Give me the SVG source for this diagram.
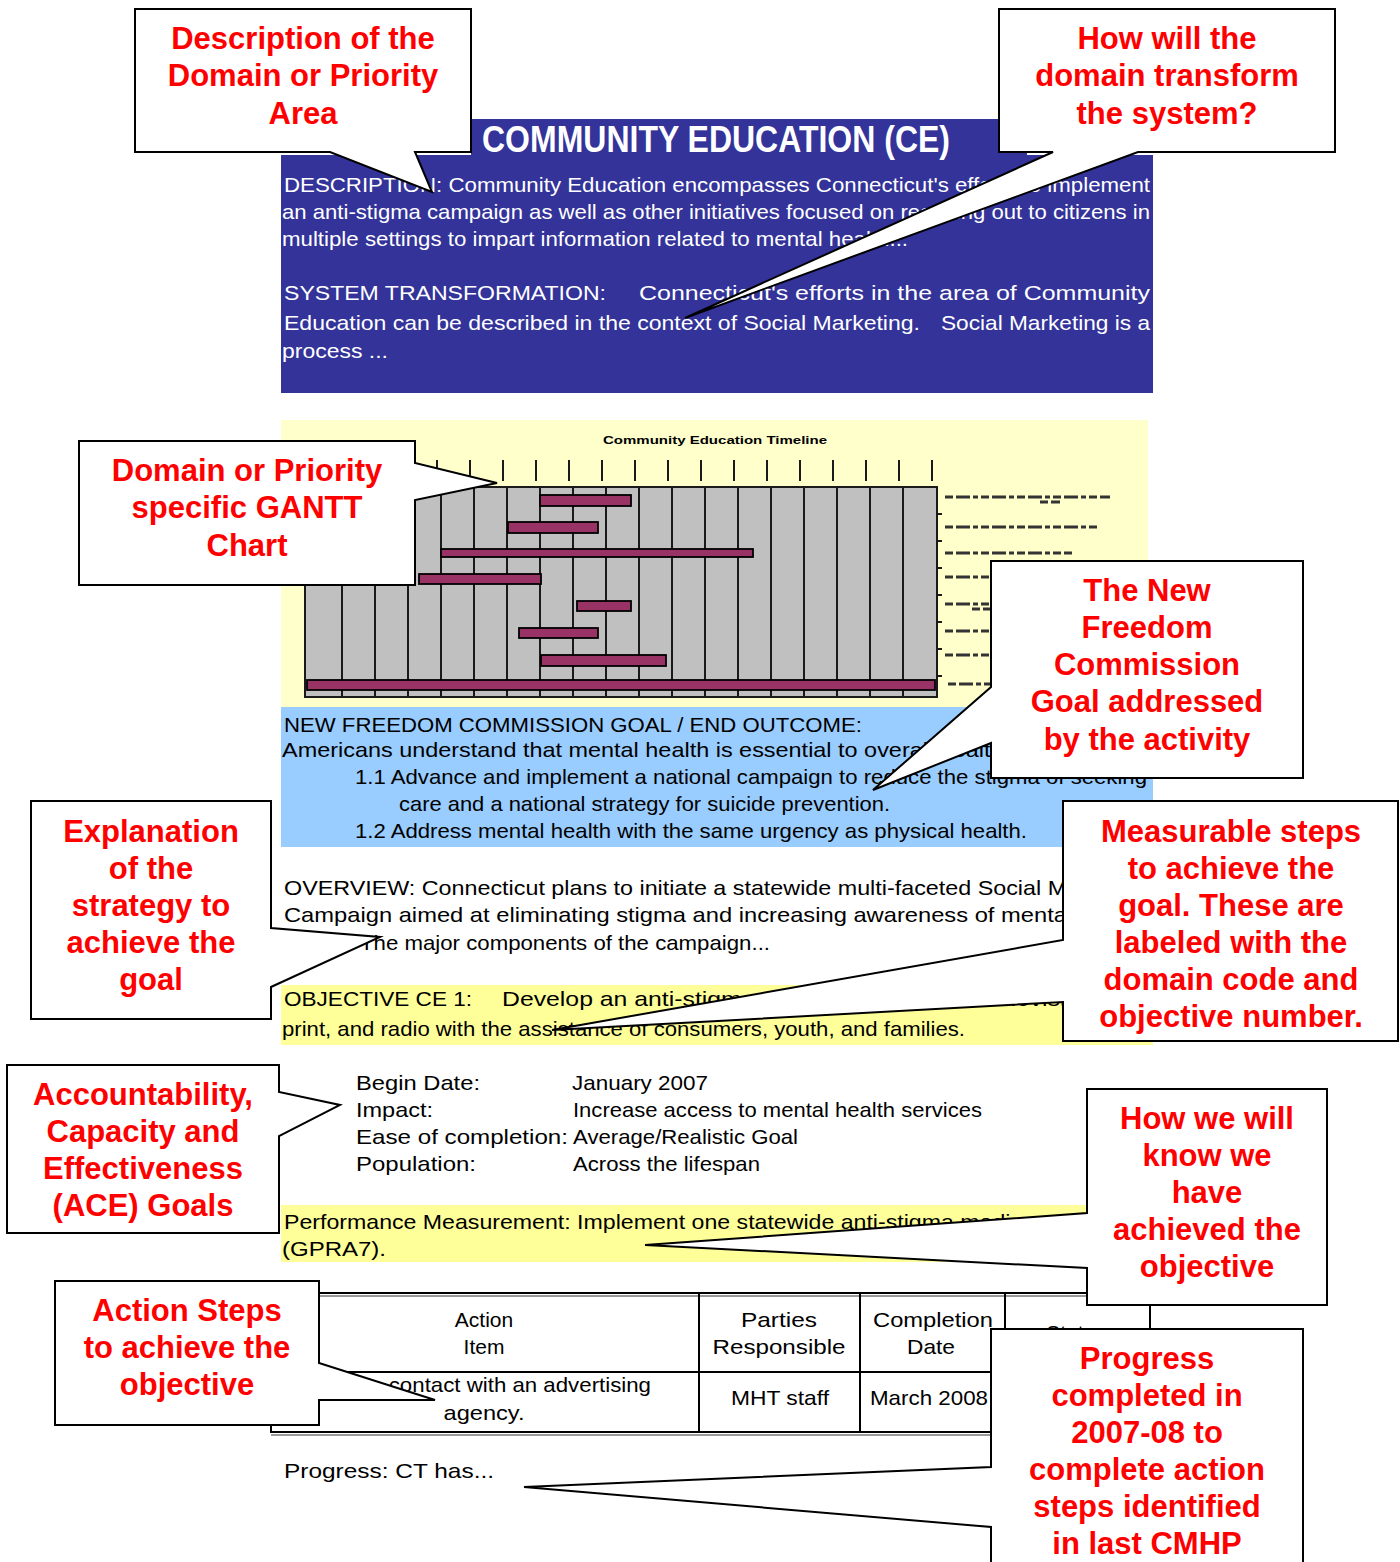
<svg xmlns="http://www.w3.org/2000/svg" width="1400" height="1562" viewBox="0 0 1400 1562">
<style>
.doc{font-family:"Liberation Sans Narrow","Liberation Sans",Arial,sans-serif;font-size:21px;fill:#000}
.wt{fill:#fff}
.cl{fill:#fff;stroke:#000;stroke-width:2;stroke-linejoin:miter}
.ct{font-family:"Liberation Sans",Arial,sans-serif;font-weight:bold;font-size:31px;fill:#ff0000;text-anchor:middle}
.grid{stroke:#1a1a1a;stroke-width:2}
.bar{fill:#993366;stroke:#000;stroke-width:1.8}
.leg{stroke:#333;stroke-width:3;stroke-dasharray:8 3 14 3 5 3}
.tb{stroke:#000;stroke-width:2;fill:none}
.mid{text-anchor:middle}
</style>
<rect width="1400" height="1562" fill="#fff"/>
<g id="document">
  <!-- top blue section -->
  <rect x="471" y="119" width="556" height="40" fill="#333399"/>
  <rect x="281" y="155" width="872" height="238" fill="#333399"/>
  <text class="doc wt" x="482" y="152" style="font-size:37px;font-weight:bold" textLength="468" lengthAdjust="spacingAndGlyphs">COMMUNITY EDUCATION (CE)</text>
  <text class="doc wt" x="284" y="192" textLength="866" lengthAdjust="spacingAndGlyphs">DESCRIPTION: Community Education encompasses Connecticut's efforts to implement</text>
  <text class="doc wt" x="282" y="219" textLength="868" lengthAdjust="spacingAndGlyphs">an anti-stigma campaign as well as other initiatives focused on reaching out to citizens in</text>
  <text class="doc wt" x="282" y="246" textLength="626" lengthAdjust="spacingAndGlyphs">multiple settings to impart information related to mental health...</text>
  <text class="doc wt" x="284" y="300" textLength="322" lengthAdjust="spacingAndGlyphs">SYSTEM TRANSFORMATION:</text>
  <text class="doc wt" x="639" y="300" textLength="511" lengthAdjust="spacingAndGlyphs">Connecticut's efforts in the area of Community</text>
  <text class="doc wt" x="284" y="330" textLength="636" lengthAdjust="spacingAndGlyphs">Education can be described in the context of Social Marketing.</text>
  <text class="doc wt" x="941" y="330" textLength="209" lengthAdjust="spacingAndGlyphs">Social Marketing is a</text>
  <text class="doc wt" x="282" y="358" textLength="106" lengthAdjust="spacingAndGlyphs">process ...</text>

  <!-- gantt section -->
  <rect x="281" y="420" width="867" height="287" fill="#ffffcc"/>
  <text x="715" y="444" font-family="Liberation Sans,Arial,sans-serif" font-weight="bold" font-size="10" text-anchor="middle" textLength="224" lengthAdjust="spacingAndGlyphs" fill="#000">Community Education Timeline</text>
  <g class="grid">
    <line x1="437" y1="460" x2="437" y2="481"/><line x1="470" y1="460" x2="470" y2="481"/><line x1="503" y1="460" x2="503" y2="481"/><line x1="536" y1="460" x2="536" y2="481"/><line x1="569" y1="460" x2="569" y2="481"/><line x1="602" y1="460" x2="602" y2="481"/><line x1="635" y1="460" x2="635" y2="481"/><line x1="668" y1="460" x2="668" y2="481"/><line x1="701" y1="460" x2="701" y2="481"/><line x1="734" y1="460" x2="734" y2="481"/><line x1="767" y1="460" x2="767" y2="481"/><line x1="800" y1="460" x2="800" y2="481"/><line x1="833" y1="460" x2="833" y2="481"/><line x1="866" y1="460" x2="866" y2="481"/><line x1="899" y1="460" x2="899" y2="481"/><line x1="932" y1="460" x2="932" y2="481"/>
  </g>
  <rect x="305" y="487" width="632" height="210" fill="#c0c0c0" stroke="#1a1a1a" stroke-width="2"/>
  <g class="grid">
    <line x1="342" y1="487" x2="342" y2="697"/><line x1="375" y1="487" x2="375" y2="697"/><line x1="408" y1="487" x2="408" y2="697"/><line x1="441" y1="487" x2="441" y2="697"/><line x1="474" y1="487" x2="474" y2="697"/><line x1="507" y1="487" x2="507" y2="697"/><line x1="540" y1="487" x2="540" y2="697"/><line x1="573" y1="487" x2="573" y2="697"/><line x1="606" y1="487" x2="606" y2="697"/><line x1="639" y1="487" x2="639" y2="697"/><line x1="672" y1="487" x2="672" y2="697"/><line x1="705" y1="487" x2="705" y2="697"/><line x1="738" y1="487" x2="738" y2="697"/><line x1="771" y1="487" x2="771" y2="697"/><line x1="804" y1="487" x2="804" y2="697"/><line x1="837" y1="487" x2="837" y2="697"/><line x1="870" y1="487" x2="870" y2="697"/><line x1="903" y1="487" x2="903" y2="697"/>
    <line x1="937" y1="514" x2="942" y2="514"/><line x1="937" y1="541" x2="942" y2="541"/><line x1="937" y1="568" x2="942" y2="568"/><line x1="937" y1="595" x2="942" y2="595"/><line x1="937" y1="622" x2="942" y2="622"/><line x1="937" y1="649" x2="942" y2="649"/><line x1="937" y1="676" x2="942" y2="676"/>
  </g>
  <rect class="bar" x="540" y="495" width="91" height="11"/>
  <rect class="bar" x="508" y="522" width="90" height="11"/>
  <rect class="bar" x="441" y="549" width="312" height="8"/>
  <rect class="bar" x="419" y="574" width="122" height="10"/>
  <rect class="bar" x="577" y="601" width="54" height="10"/>
  <rect class="bar" x="519" y="628" width="79" height="10"/>
  <rect class="bar" x="541" y="655" width="125" height="11"/>
  <rect class="bar" x="307" y="680" width="628" height="10"/>
  <g class="leg">
    <line x1="945" y1="497" x2="1110" y2="497"/><line x1="1040" y1="502" x2="1060" y2="502"/>
    <line x1="945" y1="527" x2="1100" y2="527"/>
    <line x1="945" y1="553" x2="1072" y2="553"/>
    <line x1="945" y1="577" x2="1000" y2="577"/>
    <line x1="945" y1="604" x2="1000" y2="604"/><line x1="972" y1="609" x2="1000" y2="609"/>
    <line x1="945" y1="631" x2="1000" y2="631"/>
    <line x1="945" y1="655" x2="1000" y2="655"/>
    <line x1="948" y1="684" x2="1000" y2="684"/>
  </g>

  <!-- NFC section -->
  <rect x="281" y="707" width="872" height="140" fill="#99ccff"/>
  <text class="doc" x="284" y="732" textLength="578" lengthAdjust="spacingAndGlyphs">NEW FREEDOM COMMISSION GOAL / END OUTCOME:</text>
  <text class="doc" x="282" y="757" textLength="728" lengthAdjust="spacingAndGlyphs">Americans understand that mental health is essential to overall health.</text>
  <text class="doc" x="355" y="784" textLength="792" lengthAdjust="spacingAndGlyphs">1.1 Advance and implement a national campaign to reduce the stigma of seeking</text>
  <text class="doc" x="399" y="811" textLength="491" lengthAdjust="spacingAndGlyphs">care and a national strategy for suicide prevention.</text>
  <text class="doc" x="355" y="838" textLength="672" lengthAdjust="spacingAndGlyphs">1.2 Address mental health with the same urgency as physical health.</text>

  <!-- overview -->
  <text class="doc" x="284" y="895" textLength="866" lengthAdjust="spacingAndGlyphs">OVERVIEW: Connecticut plans to initiate a statewide multi-faceted Social Marketing</text>
  <text class="doc" x="284" y="922" textLength="866" lengthAdjust="spacingAndGlyphs">Campaign aimed at eliminating stigma and increasing awareness of mental health.</text>
  <text class="doc" x="360" y="950" textLength="410" lengthAdjust="spacingAndGlyphs">The major components of the campaign...</text>

  <!-- objective -->
  <rect x="281" y="985" width="872" height="60" fill="#ffff99"/>
  <text class="doc" x="284" y="1006" textLength="188" lengthAdjust="spacingAndGlyphs">OBJECTIVE CE 1:</text>
  <text class="doc" x="502" y="1006" textLength="598" lengthAdjust="spacingAndGlyphs">Develop an anti-stigma media campaign via television,</text>
  <text class="doc" x="282" y="1036" textLength="683" lengthAdjust="spacingAndGlyphs">print, and radio with the assistance of consumers, youth, and families.</text>

  <!-- details -->
  <text class="doc" x="356" y="1090" textLength="124" lengthAdjust="spacingAndGlyphs">Begin Date:</text>
  <text class="doc" x="572" y="1090" textLength="136" lengthAdjust="spacingAndGlyphs">January 2007</text>
  <text class="doc" x="356" y="1117" textLength="77" lengthAdjust="spacingAndGlyphs">Impact:</text>
  <text class="doc" x="573" y="1117" textLength="409" lengthAdjust="spacingAndGlyphs">Increase access to mental health services</text>
  <text class="doc" x="356" y="1144" textLength="212" lengthAdjust="spacingAndGlyphs">Ease of completion:</text>
  <text class="doc" x="573" y="1144" textLength="225" lengthAdjust="spacingAndGlyphs">Average/Realistic Goal</text>
  <text class="doc" x="356" y="1171" textLength="120" lengthAdjust="spacingAndGlyphs">Population:</text>
  <text class="doc" x="573" y="1171" textLength="187" lengthAdjust="spacingAndGlyphs">Across the lifespan</text>

  <!-- performance -->
  <rect x="281" y="1205" width="869" height="57" fill="#ffff99"/>
  <text class="doc" x="284" y="1229" textLength="846" lengthAdjust="spacingAndGlyphs">Performance Measurement: Implement one statewide anti-stigma media campaign</text>
  <text class="doc" x="282" y="1256" textLength="104" lengthAdjust="spacingAndGlyphs">(GPRA7).</text>

  <!-- table -->
  <line x1="271" y1="1296" x2="1150" y2="1296" stroke="#999" stroke-width="2"/>
  <line x1="271" y1="1435" x2="1150" y2="1435" stroke="#999" stroke-width="2"/>
  <rect class="tb" x="271" y="1293" width="879" height="139"/>
  <line class="tb" x1="271" y1="1372" x2="1150" y2="1372"/>
  <line class="tb" x1="699" y1="1293" x2="699" y2="1432"/>
  <line class="tb" x1="860" y1="1293" x2="860" y2="1432"/>
  <line class="tb" x1="1005" y1="1293" x2="1005" y2="1432"/>
  <text class="doc mid" x="484" y="1327">Action</text>
  <text class="doc mid" x="484" y="1354">Item</text>
  <text class="doc mid" x="779" y="1327" textLength="76" lengthAdjust="spacingAndGlyphs">Parties</text>
  <text class="doc mid" x="779" y="1354" textLength="133" lengthAdjust="spacingAndGlyphs">Responsible</text>
  <text class="doc mid" x="933" y="1327" textLength="120" lengthAdjust="spacingAndGlyphs">Completion</text>
  <text class="doc mid" x="931" y="1354" textLength="48" lengthAdjust="spacingAndGlyphs">Date</text>
  <text class="doc mid" x="1076" y="1340">Status</text>
  <text class="doc mid" x="484" y="1392" textLength="334" lengthAdjust="spacingAndGlyphs">Initiate contact with an advertising</text>
  <text class="doc mid" x="484" y="1420" textLength="81" lengthAdjust="spacingAndGlyphs">agency.</text>
  <text class="doc mid" x="780" y="1405" textLength="98" lengthAdjust="spacingAndGlyphs">MHT staff</text>
  <text class="doc mid" x="929" y="1405" textLength="118" lengthAdjust="spacingAndGlyphs">March 2008</text>

  <text class="doc" x="284" y="1478" textLength="210" lengthAdjust="spacingAndGlyphs">Progress: CT has...</text>
</g>

<g id="connectors"></g>

<g id="callout-description">
  <path class="cl" d="M135,9 H471 V152 H415 L432,192 L330,152 H135 Z"/>
  <text class="ct" x="303" y="49">Description of the</text>
  <text class="ct" x="303" y="86">Domain or Priority</text>
  <text class="ct" x="303" y="124">Area</text>
</g>
<g id="callout-transform">
  <path class="cl" d="M999,9 H1335 V152 H1138 L685,318 L1053,152 H999 Z"/>
  <text class="ct" x="1167" y="49">How will the</text>
  <text class="ct" x="1167" y="86">domain transform</text>
  <text class="ct" x="1167" y="124">the system?</text>
</g>
<g id="callout-gantt">
  <path class="cl" d="M79,441 H415 V463 L497,483 L415,500 V585 H79 Z"/>
  <text class="ct" x="247" y="481">Domain or Priority</text>
  <text class="ct" x="247" y="518">specific GANTT</text>
  <text class="ct" x="247" y="556">Chart</text>
</g>
<g id="callout-nfc">
  <path class="cl" d="M991,561 H1303 V778 H991 V743 L873,790 L991,687 Z"/>
  <text class="ct" x="1147" y="601">The New</text>
  <text class="ct" x="1147" y="638">Freedom</text>
  <text class="ct" x="1147" y="675">Commission</text>
  <text class="ct" x="1147" y="712">Goal addressed</text>
  <text class="ct" x="1147" y="750">by the activity</text>
</g>
<g id="callout-explanation">
  <path class="cl" d="M31,801 H271 V928 L380,937 L271,987 V1019 H31 Z"/>
  <text class="ct" x="151" y="842">Explanation</text>
  <text class="ct" x="151" y="879">of the</text>
  <text class="ct" x="151" y="916">strategy to</text>
  <text class="ct" x="151" y="953">achieve the</text>
  <text class="ct" x="151" y="990">goal</text>
</g>
<g id="callout-measurable">
  <path class="cl" d="M1063,801 H1398 V1041 H1063 V1002 L552,1030 L1063,940 Z"/>
  <text class="ct" x="1231" y="842">Measurable steps</text>
  <text class="ct" x="1231" y="879">to achieve the</text>
  <text class="ct" x="1231" y="916">goal. These are</text>
  <text class="ct" x="1231" y="953">labeled with the</text>
  <text class="ct" x="1231" y="990">domain code and</text>
  <text class="ct" x="1231" y="1027">objective number.</text>
</g>
<g id="callout-ace">
  <path class="cl" d="M7,1065 H279 V1092 L340,1105 L279,1136 V1233 H7 Z"/>
  <text class="ct" x="143" y="1105">Accountability,</text>
  <text class="ct" x="143" y="1142">Capacity and</text>
  <text class="ct" x="143" y="1179">Effectiveness</text>
  <text class="ct" x="143" y="1216">(ACE) Goals</text>
</g>
<g id="callout-know">
  <path class="cl" d="M1087,1089 H1327 V1305 H1087 V1268 L645,1245 L1087,1213 Z"/>
  <text class="ct" x="1207" y="1129">How we will</text>
  <text class="ct" x="1207" y="1166">know we</text>
  <text class="ct" x="1207" y="1203">have</text>
  <text class="ct" x="1207" y="1240">achieved the</text>
  <text class="ct" x="1207" y="1277">objective</text>
</g>
<g id="callout-action">
  <path class="cl" d="M55,1281 H319 V1363 L435,1400 H319 V1425 H55 Z"/>
  <text class="ct" x="187" y="1321">Action Steps</text>
  <text class="ct" x="187" y="1358">to achieve the</text>
  <text class="ct" x="187" y="1395">objective</text>
</g>
<g id="callout-progress">
  <path class="cl" d="M991,1329 H1303 V1580 H991 V1527 L524,1487 L991,1467 Z"/>
  <text class="ct" x="1147" y="1369">Progress</text>
  <text class="ct" x="1147" y="1406">completed in</text>
  <text class="ct" x="1147" y="1443">2007-08 to</text>
  <text class="ct" x="1147" y="1480">complete action</text>
  <text class="ct" x="1147" y="1517">steps identified</text>
  <text class="ct" x="1147" y="1554">in last CMHP</text>
</g>
</svg>
